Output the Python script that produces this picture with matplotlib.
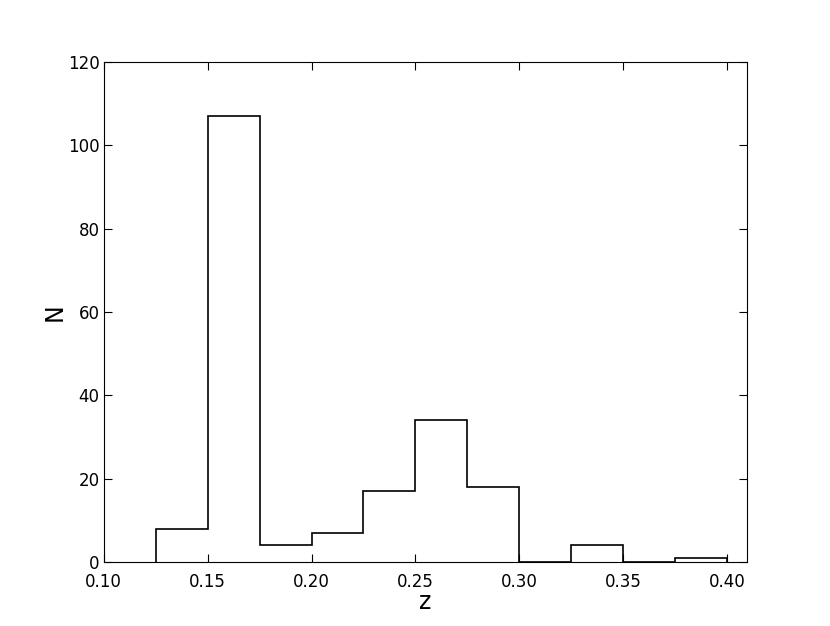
import numpy as np
import matplotlib
matplotlib.use("Agg")
import matplotlib.pyplot as plt

# histogram of redshifts (bin edges and counts)
bin_edges = [0.125, 0.15, 0.175, 0.2, 0.225, 0.25, 0.275, 0.3, 0.325, 0.35, 0.375, 0.4]
counts = [8, 107, 4, 7, 17, 34, 18, 0, 4, 0, 1]

xticks = [0.10, 0.15, 0.20, 0.25, 0.30, 0.35, 0.40]
yticks = [0, 20, 40, 60, 80, 100, 120]

fig = plt.figure(figsize=(8.3, 6.26), dpi=100)
ax = fig.add_subplot(111)
fig.subplots_adjust(left=0.125, right=0.9, bottom=0.102, top=0.901)

ax.hist(bin_edges[:-1], bins=bin_edges, weights=counts, histtype='step',
        color='black', linewidth=1.2)

ax.set_xlim(0.1, 0.4096)
ax.set_ylim(0, 120)
ax.set_xticks(xticks)
ax.set_xticklabels(["%.2f" % t for t in xticks])
ax.set_yticks(yticks)
ax.tick_params(direction='in', top=True, right=True, labelsize=12, length=6)
ax.tick_params(axis='x', pad=8)
ax.tick_params(axis='y', pad=3)
ax.set_xlabel('z', fontsize=17, labelpad=-1)
ax.set_ylabel('N', fontsize=17, labelpad=1)

fig.savefig('out.png', dpi=100)
